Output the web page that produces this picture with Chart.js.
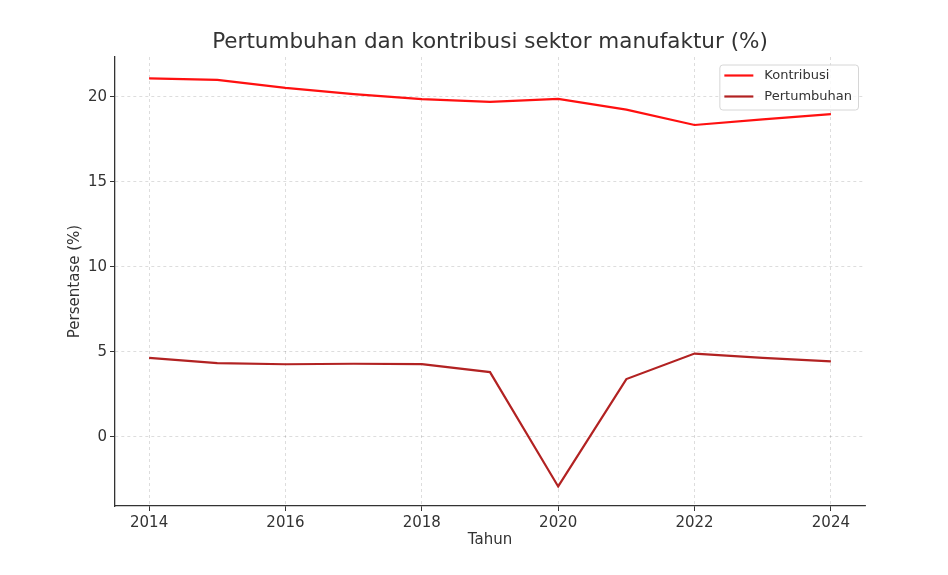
<!DOCTYPE html>
<html>
<head>
<meta charset="utf-8">
<script src="https://cdn.jsdelivr.net/npm/chart.js@4/dist/chart.umd.min.js"></script>
<style>
  html, body { margin: 0; padding: 0; background: #fff; }
  #wrap { width: 948px; height: 575px; }
</style>
</head>
<body>
<div id="wrap"><canvas id="c" width="948" height="575"></canvas></div>
<script>
const years = [2014, 2015, 2016, 2017, 2018, 2019, 2020, 2021, 2022, 2023, 2024];
const kontribusi = [21.08, 20.99, 20.52, 20.16, 19.86, 19.70, 19.87, 19.24, 18.34, 18.67, 18.98];
const pertumbuhan = [4.64, 4.33, 4.26, 4.29, 4.27, 3.80, -2.93, 3.39, 4.89, 4.64, 4.43];
const yTicks = [0, 5, 10, 15, 20];
const xTicks = [2014, 2016, 2018, 2020, 2022, 2024];

const FONT = "'DejaVu Sans', 'Liberation Sans', sans-serif";
const TXT = '#333333';

const legendPlugin = {
  id: 'mplLegend',
  afterDraw(chart) {
    const ctx = chart.ctx;
    const area = chart.chartArea;
    ctx.save();
    ctx.font = '13px ' + FONT;
    const items = chart.data.datasets.map(d => ({ label: d.label, color: d.borderColor }));
    const maxW = Math.max(...items.map(i => ctx.measureText(i.label).width));
    const w = maxW + 51;
    const rowH = 21;
    const h = items.length * rowH + 3;
    const x = area.right - 7 - w;
    const y = area.top + 7.5;
    ctx.beginPath();
    ctx.roundRect(x + 0.5, y + 0.5, w, h, 3);
    ctx.fillStyle = 'rgba(255,255,255,0.8)';
    ctx.fill();
    ctx.strokeStyle = '#d6d6d6';
    ctx.lineWidth = 1;
    ctx.stroke();
    items.forEach((it, i) => {
      const cy = y + 11 + i * rowH;
      ctx.beginPath();
      ctx.moveTo(x + 5, cy);
      ctx.lineTo(x + 34, cy);
      ctx.strokeStyle = it.color;
      ctx.lineWidth = 2.2;
      ctx.stroke();
      ctx.fillStyle = TXT;
      ctx.textBaseline = 'middle';
      ctx.textAlign = 'left';
      ctx.fillText(it.label, x + 45, cy + 0.5);
    });
    ctx.restore();
  }
};

new Chart(document.getElementById('c'), {
  type: 'line',
  data: {
    datasets: [
      {
        label: 'Kontribusi',
        data: years.map((y, i) => ({ x: y, y: kontribusi[i] })),
        borderColor: '#ff1010',
        borderWidth: 2.2,
        pointRadius: 0,
        tension: 0,
        fill: false
      },
      {
        label: 'Pertumbuhan',
        data: years.map((y, i) => ({ x: y, y: pertumbuhan[i] })),
        borderColor: '#b22222',
        borderWidth: 2.2,
        pointRadius: 0,
        tension: 0,
        fill: false
      }
    ]
  },
  options: {
    responsive: false,
    animation: false,
    layout: { padding: { left: 62, right: 83, top: 0, bottom: 22 } },
    plugins: {
      legend: { display: false },
      tooltip: { enabled: false },
      title: {
        display: true,
        text: 'Pertumbuhan dan kontribusi sektor manufaktur (%)',
        fullSize: false,
        color: TXT,
        font: { family: FONT, size: 21.5, weight: 'normal', lineHeight: 1.2 },
        padding: { top: 30, bottom: 1.2 }
      }
    },
    scales: {
      x: {
        type: 'linear',
        min: 2013.5,
        max: 2024.5,
        afterBuildTicks(scale) { scale.ticks = xTicks.map(v => ({ value: v })); },
        afterFit(scale) { scale.height = 47; },
        ticks: {
          includeBounds: false,
          color: TXT,
          padding: 3,
          maxRotation: 0,
          font: { family: FONT, size: 15 },
          callback: v => String(v)
        },
        grid: {
          color: 'rgba(0,0,0,0.17)',
          lineWidth: 0.8,
          tickColor: TXT,
          tickLength: 5,
          tickWidth: 1
        },
        border: { display: true, color: TXT, width: 1.3, dash: [3, 3] },
        title: {
          display: true,
          text: 'Tahun',
          color: TXT,
          font: { family: FONT, size: 15, lineHeight: 1.2 },
          padding: 4
        }
      },
      y: {
        type: 'linear',
        min: -4.08,
        max: 22.34,
        afterBuildTicks(scale) { scale.ticks = yTicks.map(v => ({ value: v })); },
        afterFit(scale) { scale.width = 53; },
        ticks: {
          includeBounds: false,
          color: TXT,
          padding: 3,
          font: { family: FONT, size: 15 },
          callback: v => String(v)
        },
        grid: {
          color: 'rgba(0,0,0,0.17)',
          lineWidth: 0.8,
          tickColor: TXT,
          tickLength: 5,
          tickWidth: 1
        },
        border: { display: true, color: TXT, width: 1.3, dash: [3, 3] },
        title: {
          display: true,
          text: 'Persentase (%)',
          color: TXT,
          font: { family: FONT, size: 15, lineHeight: 1.2 },
          padding: 4
        }
      }
    }
  },
  plugins: [legendPlugin]
});
</script>
</body>
</html>
